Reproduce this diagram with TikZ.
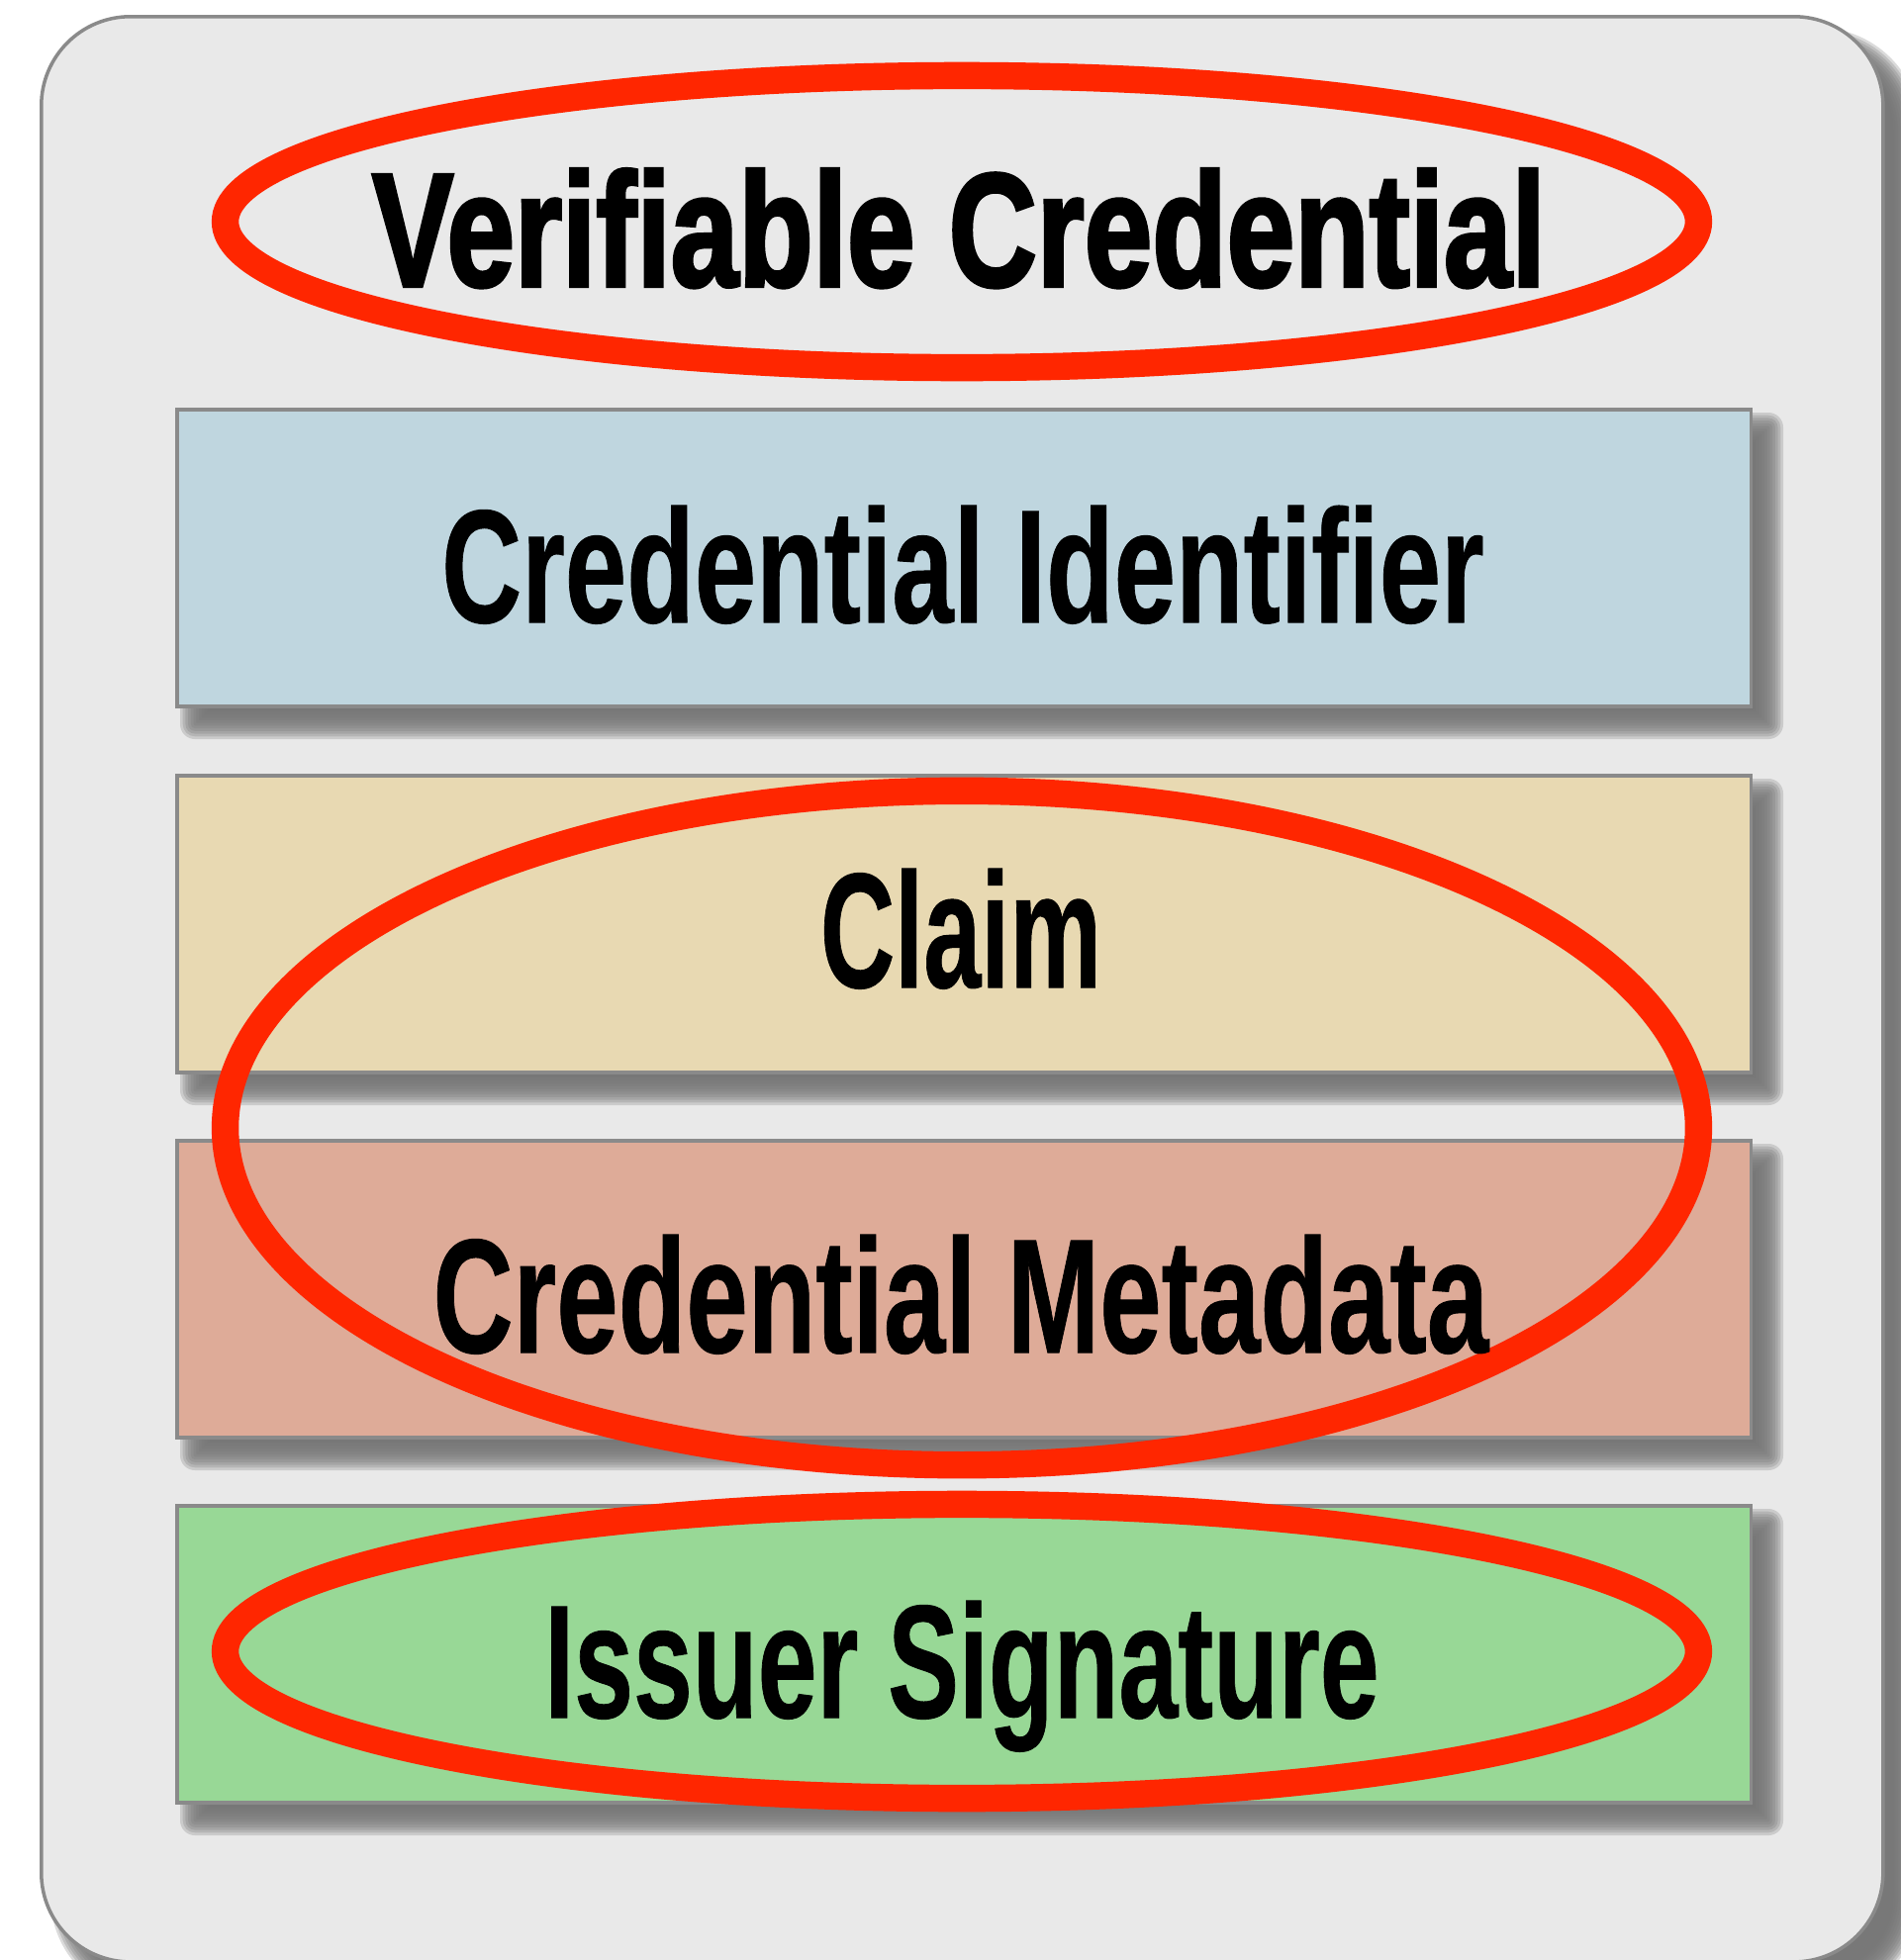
\documentclass[tikz,border=0pt]{standalone}
\usepackage{fontspec}
\usepackage{graphicx}
\usetikzlibrary{shapes.geometric}
\setmainfont{Liberation Sans}
\newfontfamily\titlefont{Liberation Sans Bold}[FakeBold=2.5]
\newfontfamily\labelfont{Liberation Sans Bold}[FakeBold=0.6]

\definecolor{panelgray}{HTML}{E9E9E9}
\definecolor{edgegray}{HTML}{8A8A8A}
\definecolor{shadegray}{HTML}{767676}
\definecolor{idblue}{HTML}{BFD6DF}
\definecolor{claimtan}{HTML}{E8D9B2}
\definecolor{metasalmon}{HTML}{DEAB98}
\definecolor{siggreen}{HTML}{98D896}
\definecolor{markred}{HTML}{FF2600}

% soft drop shadow: x1 y1 x2 y2 (px), corner radius (px), blur (px)
\newcommand\softshadow[6]{%
  \foreach \k in {0,...,11}{%
    \pgfmathsetmacro\e{#6-\k*2*#6/11}%
    \pgfmathsetmacro\rc{max(#5+\e,0.5)*0.01}%
    \fill[shadegray, fill opacity=0.26, rounded corners=\rc cm]
      (#1-\e,#2-\e) rectangle (#3+\e,#4+\e);
  }}

\tikzset{
  layerbox/.style={draw=edgegray, line width=1pt, minimum width=15.9cm,
    minimum height=3cm, inner sep=0pt, anchor=north west},
  ring/.style={ellipse, draw=markred, line width=7.8pt, inner sep=0pt,
    minimum width=14.88cm},
  caption/.style={anchor=base, inner sep=0pt, text=black},
}

\begin{document}
\begin{tikzpicture}[x=0.01cm, y=-0.01cm]
  \useasboundingbox (0,0) rectangle (1920,1981);
  \fill[white] (0,0) rectangle (1920,1981);

  % outer card
  \softshadow{65}{42}{1927}{2007}{90}{14}
  \node[draw=edgegray, line width=1pt, fill=panelgray, rounded corners=0.9cm,
    minimum width=18.6cm, minimum height=19.65cm, inner sep=0pt,
    anchor=north west] (card) at (40,15) {};

  % layers
  \softshadow{197}{432}{1787}{732}{0}{15}
  \softshadow{197}{802}{1787}{1102}{0}{15}
  \softshadow{197}{1171}{1787}{1471}{0}{15}
  \softshadow{197}{1540}{1787}{1840}{0}{15}
  \node[layerbox, fill=idblue]     (ident) at (177,412)  {};
  \node[layerbox, fill=claimtan]   (claim) at (177,782)  {};
  \node[layerbox, fill=metasalmon] (meta)  at (177,1151) {};
  \node[layerbox, fill=siggreen]   (sig)   at (177,1520) {};

  % highlight rings
  \node[ring, minimum height=2.95cm] (ringtop) at (972,224)  {};
  \node[ring, minimum height=6.81cm] (ringmid) at (972,1140) {};
  \node[ring, minimum height=2.97cm] (ringbot) at (972,1669) {};

  % labels
  \node[caption] (vc) at (969,289)
    {\resizebox{11.85cm}{1.18cm}{\titlefont Verifiable Credential}};
  \node[caption] (identtext) at (973,629)
    {\resizebox{10.53cm}{1.18cm}{\labelfont Credential Identifier}};
  \node[caption] (claimtext) at (971,998)
    {\resizebox{2.84cm}{1.20cm}{\labelfont Claim}};
  \node[caption] (metatext) at (971,1367)
    {\resizebox{10.66cm}{1.19cm}{\labelfont Credential Metadata}};
  \node[caption] (sigtext) at (972,1736)
    {\resizebox{8.43cm}{1.18cm}{\labelfont Issuer Signature}};
\end{tikzpicture}
\end{document}
